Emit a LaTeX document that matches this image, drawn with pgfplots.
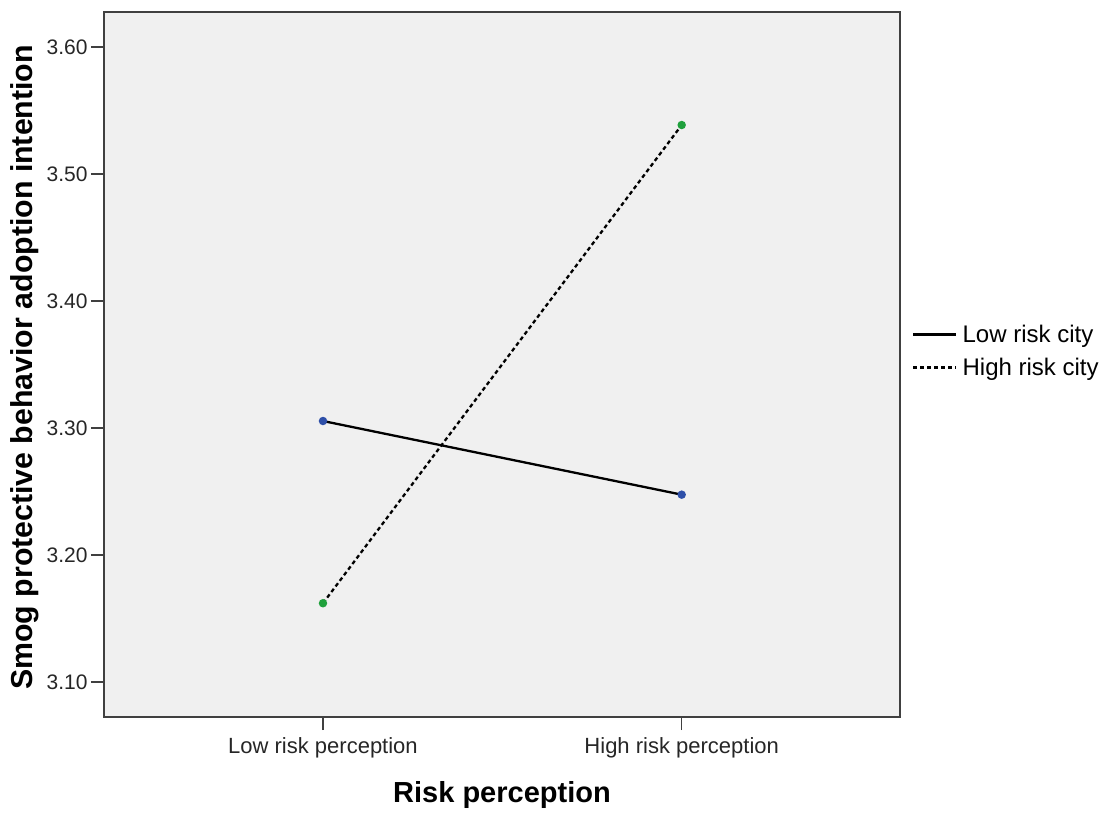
\documentclass[border=0pt]{standalone}
\usepackage{fontspec}
\setmainfont{Liberation Sans}
\usepackage{pgfplots}
\pgfplotsset{compat=1.18}
\definecolor{bg}{HTML}{F0F0F0}
\definecolor{axcol}{HTML}{404040}
\definecolor{mblue}{HTML}{2E4FA8}
\definecolor{mgreen}{HTML}{1FA03C}
\begin{document}
\begin{tikzpicture}
\begin{axis}[
  name=main,
  scale only axis, width=796pt, height=705pt,
  xmin=-0.6105, xmax=1.6086, ymin=3.0724, ymax=3.6276,
  axis background/.style={fill=bg},
  axis line style={axcol, line width=2.2pt},
  xtick={0,1}, xticklabels={Low risk perception, High risk perception},
  ytick={3.1,3.2,3.3,3.4,3.5,3.6},
  yticklabel style={/pgf/number format/.cd, fixed, fixed zerofill, precision=2, assume math mode=true},
  xticklabel style={yshift=-4pt, font=\fontsize{22}{26}\selectfont},
  tick align=outside, major tick length=13pt,
  tick style={axcol, line width=1.6pt},
  xtick pos=bottom, ytick pos=left,
  ticklabel style={font=\fontsize{21}{25}\selectfont, text=black!85},
  xlabel={Risk perception},
  ylabel={Smog protective behavior adoption intention},
  xlabel style={at={(axis description cs:0.5,-0.1106)}, anchor=center, font=\fontsize{29}{34}\selectfont\bfseries},
  ylabel style={at={(axis description cs:-0.0992,0.4958)}, anchor=center, font=\fontsize{30.3}{35}\selectfont\bfseries},
  legend style={at={(axis description cs:1,0.519)}, anchor=west, xshift=12pt,
    draw=none, fill=none, inner sep=0pt, font=\fontsize{24}{28}\selectfont,
    nodes={inner sep=2pt}, row sep=10pt, column sep=3pt},
  legend cell align=left,
  legend image code/.code={\draw[#1,mark=none,line width=2.4pt] (0pt,0pt) -- (43pt,0pt);},
]
\addplot[black, line width=2.3pt, mark=*, mark size=3pt,
  mark options={solid, fill=mblue, draw=mblue}]
  coordinates {(0,3.3055) (1,3.2475)};
\addlegendentry{Low risk city}
\addplot[black, line width=2.3pt, dash pattern=on 4pt off 3pt, mark=*, mark size=3pt,
  mark options={solid, fill=mgreen, draw=mgreen}]
  coordinates {(0,3.162) (1,3.5386)};
\addlegendentry{High risk city}
\end{axis}
\path ([shift={(-104pt,-95pt)}]main.south west) rectangle ++(1104pt,812pt);
\end{tikzpicture}
\end{document}
